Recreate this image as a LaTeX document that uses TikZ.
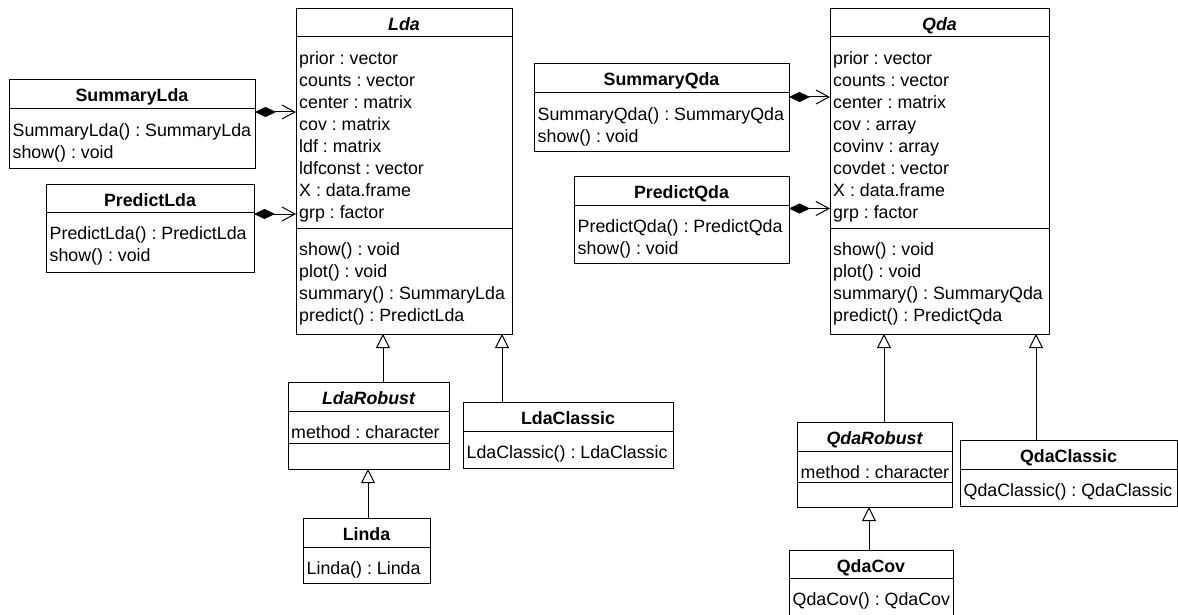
\documentclass[tikz,border=0pt]{standalone}
\usepackage{fontspec}
\setmainfont{Liberation Sans}
\usetikzlibrary{arrows.meta}
\newcommand\umlfont{\fontsize{17.8}{22}\selectfont}
\frenchspacing
\begin{document}
\begin{tikzpicture}[x=1pt,y=-1pt,
  umlbox/.style={draw, line width=1pt, rectangle, inner sep=0pt, outer sep=0pt, anchor=north west},
  txt/.style={inner sep=0pt, anchor=base west, font=\umlfont},
  ttl/.style={inner sep=0pt, anchor=base, font=\umlfont\bfseries},
  attl/.style={inner sep=0pt, anchor=base, font=\umlfont\bfseries\itshape},
  sepline/.style={line width=1pt},
  comp/.style={line width=1pt, {Diamond[length=21pt,width=10pt]}-{Straight Barb[length=13pt,width=14pt,line width=1pt]}},
  inh/.style={line width=1pt, -{Triangle[open,length=14pt,width=14pt,fill=white,line width=1pt]}}
]
\useasboundingbox (0,0) rectangle (1178,615);

% ---------- boxes ----------
\node[umlbox, minimum width=216pt, minimum height=325pt] (lda)   at (296,9) {};
\node[umlbox, minimum width=219pt, minimum height=325pt] (qda)   at (830,9) {};
\node[umlbox, minimum width=246pt, minimum height=88pt]  (slda)  at (9,80) {};
\node[umlbox, minimum width=208pt, minimum height=88pt]  (plda)  at (46,184) {};
\node[umlbox, minimum width=255pt, minimum height=88pt]  (sqda)  at (534,64) {};
\node[umlbox, minimum width=215pt, minimum height=87pt]  (pqda)  at (574,176) {};
\node[umlbox, minimum width=161pt, minimum height=87pt]  (lrob)  at (288,382) {};
\node[umlbox, minimum width=210pt, minimum height=66pt]  (lcla)  at (463,402) {};
\node[umlbox, minimum width=127pt, minimum height=65pt]  (linda) at (303,518) {};
\node[umlbox, minimum width=155pt, minimum height=85pt]  (qrob)  at (797,422) {};
\node[umlbox, minimum width=217pt, minimum height=66pt]  (qcla)  at (960,440) {};
\node[umlbox, minimum width=164pt, minimum height=80pt]  (qcov)  at (789,550) {};

% ---------- compartment separators ----------
\draw[sepline] (lda.west |- 0,37) -- (lda.east |- 0,37);
\draw[sepline] (lda.west |- 0,228) -- (lda.east |- 0,228);
\draw[sepline] (qda.west |- 0,37) -- (qda.east |- 0,37);
\draw[sepline] (qda.west |- 0,228) -- (qda.east |- 0,228);
\draw[sepline] (slda.west |- 0,109) -- (slda.east |- 0,109);
\draw[sepline] (plda.west |- 0,212) -- (plda.east |- 0,212);
\draw[sepline] (sqda.west |- 0,93) -- (sqda.east |- 0,93);
\draw[sepline] (pqda.west |- 0,205) -- (pqda.east |- 0,205);
\draw[sepline] (lrob.west |- 0,411) -- (lrob.east |- 0,411);
\draw[sepline] (lrob.west |- 0,443) -- (lrob.east |- 0,443);
\draw[sepline] (lcla.west |- 0,431) -- (lcla.east |- 0,431);
\draw[sepline] (linda.west |- 0,547) -- (linda.east |- 0,547);
\draw[sepline] (qrob.west |- 0,451) -- (qrob.east |- 0,451);
\draw[sepline] (qrob.west |- 0,482) -- (qrob.east |- 0,482);
\draw[sepline] (qcla.west |- 0,469) -- (qcla.east |- 0,469);
\draw[sepline] (qcov.west |- 0,578) -- (qcov.east |- 0,578);

% ---------- titles ----------
\node[attl] (lda-t)   at (404,31)    {Lda};
\node[attl] (qda-t)   at (939.5,31)  {Qda};
\node[ttl]  (slda-t)  at (132,102)   {SummaryLda};
\node[ttl]  (plda-t)  at (150,206)   {PredictLda};
\node[ttl]  (sqda-t)  at (661.5,86)  {SummaryQda};
\node[ttl]  (pqda-t)  at (681.5,198) {PredictQda};
\node[attl] (lrob-t)  at (368.5,404) {LdaRobust};
\node[ttl]  (lcla-t)  at (568,424)   {LdaClassic};
\node[ttl]  (linda-t) at (366.5,540) {Linda};
\node[attl] (qrob-t)  at (874.5,444) {QdaRobust};
\node[ttl]  (qcla-t)  at (1068.5,462){QdaClassic};
\node[ttl]  (qcov-t)  at (871,572)   {QdaCov};

% ---------- attributes and operations ----------
\foreach \t [count=\i from 0] in {prior : vector, counts : vector, center : matrix, cov : matrix, ldf : matrix, ldfconst : vector, X : data.frame, grp : factor}
  \node[txt] (lda-a\i) at (299,{64.5+22*\i}) {\t};
\foreach \t [count=\i from 0] in {show() : void, plot() : void, summary() : SummaryLda, predict() : PredictLda}
  \node[txt] (lda-m\i) at (299,{255.5+22*\i}) {\t};
\foreach \t [count=\i from 0] in {prior : vector, counts : vector, center : matrix, cov : array, covinv : array, covdet : vector, X : data.frame, grp : factor}
  \node[txt] (qda-a\i) at (833,{64.5+22*\i}) {\t};
\foreach \t [count=\i from 0] in {show() : void, plot() : void, summary() : SummaryQda, predict() : PredictQda}
  \node[txt] (qda-m\i) at (833,{255.5+22*\i}) {\t};

\node[txt] (slda-m0) at (12.5,136.5) {SummaryLda() : SummaryLda};
\node[txt] (slda-m1) at (12.5,158.5) {show() : void};
\node[txt] (plda-m0) at (49.5,239.5) {PredictLda() : PredictLda};
\node[txt] (plda-m1) at (49.5,261.5) {show() : void};
\node[txt] (sqda-m0) at (537.5,120.5) {SummaryQda() : SummaryQda};
\node[txt] (sqda-m1) at (537.5,142.5) {show() : void};
\node[txt] (pqda-m0) at (577.5,232.5) {PredictQda() : PredictQda};
\node[txt] (pqda-m1) at (577.5,254.5) {show() : void};
\node[txt] (lrob-a0) at (291,438.5) {method : character};
\node[txt] (lcla-m0) at (466.5,458.5) {LdaClassic() : LdaClassic};
\node[txt] (linda-m0) at (306.5,574.5) {Linda() : Linda};
\node[txt] (qrob-a0) at (800.5,478.5) {method : character};
\node[txt] (qcla-m0) at (963.5,496.5) {QdaClassic() : QdaClassic};
\node[txt] (qcov-m0) at (792.5,605.5) {QdaCov() : QdaCov};

% ---------- compositions ----------
\coordinate (cy1) at (0,112);
\coordinate (cy2) at (0,214);
\coordinate (cy3) at (0,97);
\coordinate (cy4) at (0,208.5);
\draw[comp] (slda.east |- cy1) -- (lda.west |- cy1);
\draw[comp] (plda.east |- cy2) -- (lda.west |- cy2);
\draw[comp] (sqda.east |- cy3) -- (qda.west |- cy3);
\draw[comp] (pqda.east |- cy4) -- (qda.west |- cy4);

% ---------- generalizations ----------
\coordinate (gx1) at (383,0);
\coordinate (gx2) at (502,0);
\coordinate (gx3) at (368,0);
\coordinate (gx4) at (884,0);
\coordinate (gx5) at (1036,0);
\coordinate (gx6) at (869,0);
\draw[inh] (lrob.north -| gx1) -- (lda.south -| gx1);
\draw[inh] (lcla.north -| gx2) -- (lda.south -| gx2);
\draw[inh] (linda.north -| gx3) -- (lrob.south -| gx3);
\draw[inh] (qrob.north -| gx4) -- (qda.south -| gx4);
\draw[inh] (qcla.north -| gx5) -- (qda.south -| gx5);
\draw[inh] (qcov.north -| gx6) -- (qrob.south -| gx6);
\end{tikzpicture}
\end{document}
